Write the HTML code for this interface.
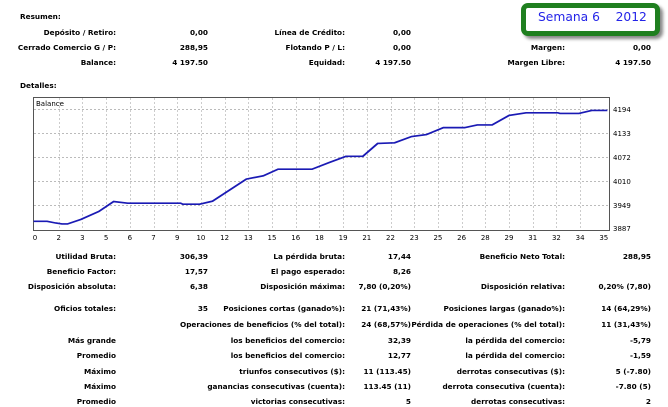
<!DOCTYPE html>
<html><head><meta charset="utf-8"><style>
body{margin:0;width:668px;height:406px;background:#fff;position:relative;overflow:hidden;font-family:"DejaVu Sans","Liberation Sans",sans-serif;font-weight:bold;font-size:7.3px;color:#000}
.t{position:absolute;white-space:nowrap;line-height:10px}
.r{position:absolute;white-space:nowrap;line-height:10px;text-align:right}
</style></head><body>
<div style="position:absolute;left:521px;top:3px;width:129px;height:23px;border:5px solid #1f7f1f;border-radius:7px;box-shadow:3px 3px 3px #888;background:#fff"></div>
<div class="t" style="left:538px;top:10px;font-family:'DejaVu Sans',sans-serif;font-weight:normal;font-size:12.3px;line-height:14px;color:#2424e8;">Semana 6&nbsp;&nbsp;&nbsp; 2012</div>

<div class="t" style="left:20px;top:12px">Resumen:</div>
<div class="t" style="left:20px;top:81px">Detalles:</div>

<svg width="668" height="406" style="position:absolute;left:0;top:0" xmlns="http://www.w3.org/2000/svg">
<rect x="33.5" y="97.5" width="576" height="133" fill="#fff" stroke="#555"/>
<g stroke="#bbb" stroke-dasharray="2,2" stroke-width="1">
<line x1="34" x2="609" y1="109.5" y2="109.5"/><line x1="34" x2="609" y1="133.5" y2="133.5"/><line x1="34" x2="609" y1="157.5" y2="157.5"/><line x1="34" x2="609" y1="181.5" y2="181.5"/><line x1="34" x2="609" y1="205.5" y2="205.5"/>
</g>
<g id="v" stroke="#ccc" stroke-dasharray="2,2"></g>
<g transform="translate(0.5,90) scale(0.4238,0.33)">
<polyline fill="none" stroke="#1a1ab4" stroke-width="5" points="78,398 110,398 130,403 145,406 158,406 190,392 232,368 267,338 300,343 425,343 430,346 470,346 500,337 580,270 620,260 655,240 735,240 775,220 815,201 855,201 890,162 930,160 970,141 1005,135 1045,114 1095,114 1125,106 1160,106 1200,77 1240,69 1315,69 1320,71 1365,71 1395,62 1432,62"/>
</g>
<text x="36" y="106" font-size="7" font-family="DejaVu Sans" font-weight="normal">Balance</text>
<g font-size="7" font-family="DejaVu Sans" font-weight="normal">
<text x="613" y="112">4194</text><text x="613" y="136">4133</text><text x="613" y="160">4072</text><text x="613" y="184">4010</text><text x="613" y="208">3949</text><text x="613" y="231">3887</text>
</g>
<g id="xl" font-size="7" font-family="DejaVu Sans" font-weight="normal" text-anchor="middle"></g>
</svg>
<script>
(function(){
var ns="http://www.w3.org/2000/svg";
var xl=document.getElementById('xl'),v=document.getElementById('v');
var labs=[0,2,3,5,6,7,9,10,12,13,15,16,18,19,21,22,23,25,26,28,29,31,32,34,35];
for(var i=0;i<labs.length;i++){var x=35+i*23.7;var t=document.createElementNS(ns,'text');t.setAttribute('x',x);t.setAttribute('y',240);t.textContent=labs[i];xl.appendChild(t);
if(i>0&&i<24){var l=document.createElementNS(ns,'line');l.setAttribute('x1',Math.round(x)+.5);l.setAttribute('x2',Math.round(x)+.5);l.setAttribute('y1',98);l.setAttribute('y2',230);v.appendChild(l);}}
})();
</script>
<div class="r" style="right:552px;top:28px">Depósito / Retiro:</div><div class="r" style="right:460px;top:28px">0,00</div>
<div class="r" style="right:323px;top:28px">Línea de Crédito:</div><div class="r" style="right:257px;top:28px">0,00</div>
<div class="r" style="right:552px;top:43px">Cerrado Comercio G / P:</div><div class="r" style="right:460px;top:43px">288,95</div>
<div class="r" style="right:323px;top:43px">Flotando P / L:</div><div class="r" style="right:257px;top:43px">0,00</div>
<div class="r" style="right:103px;top:43px">Margen:</div><div class="r" style="right:17px;top:43px">0,00</div>
<div class="r" style="right:552px;top:58px">Balance:</div><div class="r" style="right:460px;top:58px">4 197.50</div>
<div class="r" style="right:323px;top:58px">Equidad:</div><div class="r" style="right:257px;top:58px">4 197.50</div>
<div class="r" style="right:103px;top:58px">Margen Libre:</div><div class="r" style="right:17px;top:58px">4 197.50</div>

<div class="r" style="right:552px;top:252px">Utilidad Bruta:</div><div class="r" style="right:460px;top:252px">306,39</div>
<div class="r" style="right:323px;top:252px">La pérdida bruta:</div><div class="r" style="right:257px;top:252px">17,44</div>
<div class="r" style="right:103px;top:252px">Beneficio Neto Total:</div><div class="r" style="right:17px;top:252px">288,95</div>
<div class="r" style="right:552px;top:267px">Beneficio Factor:</div><div class="r" style="right:460px;top:267px">17,57</div>
<div class="r" style="right:323px;top:267px">El pago esperado:</div><div class="r" style="right:257px;top:267px">8,26</div>
<div class="r" style="right:552px;top:282px">Disposición absoluta:</div><div class="r" style="right:460px;top:282px">6,38</div>
<div class="r" style="right:323px;top:282px">Disposición máxima:</div><div class="r" style="right:257px;top:282px">7,80 (0,20%)</div>
<div class="r" style="right:103px;top:282px">Disposición relativa:</div><div class="r" style="right:17px;top:282px">0,20% (7,80)</div>
<div class="r" style="right:552px;top:304px">Oficios totales:</div><div class="r" style="right:460px;top:304px">35</div>
<div class="r" style="right:323px;top:304px">Posiciones cortas (ganado%):</div><div class="r" style="right:257px;top:304px">21 (71,43%)</div>
<div class="r" style="right:103px;top:304px">Posiciones largas (ganado%):</div><div class="r" style="right:17px;top:304px">14 (64,29%)</div>
<div class="r" style="right:323px;top:320px">Operaciones de beneficios (% del total):</div><div class="r" style="right:257px;top:320px">24 (68,57%)</div>
<div class="r" style="right:103px;top:320px">Pérdida de operaciones (% del total):</div><div class="r" style="right:17px;top:320px">11 (31,43%)</div>
<div class="r" style="right:552px;top:336px">Más grande</div>
<div class="r" style="right:323px;top:336px">los beneficios del comercio:</div><div class="r" style="right:257px;top:336px">32,39</div>
<div class="r" style="right:103px;top:336px">la pérdida del comercio:</div><div class="r" style="right:17px;top:336px">-5,79</div>
<div class="r" style="right:552px;top:351px">Promedio</div>
<div class="r" style="right:323px;top:351px">los beneficios del comercio:</div><div class="r" style="right:257px;top:351px">12,77</div>
<div class="r" style="right:103px;top:351px">la pérdida del comercio:</div><div class="r" style="right:17px;top:351px">-1,59</div>
<div class="r" style="right:552px;top:367px">Máximo</div>
<div class="r" style="right:323px;top:367px">triunfos consecutivos ($):</div><div class="r" style="right:257px;top:367px">11 (113.45)</div>
<div class="r" style="right:103px;top:367px">derrotas consecutivas ($):</div><div class="r" style="right:17px;top:367px">5 (-7.80)</div>
<div class="r" style="right:552px;top:382px">Máximo</div>
<div class="r" style="right:323px;top:382px">ganancias consecutivas (cuenta):</div><div class="r" style="right:257px;top:382px">113.45 (11)</div>
<div class="r" style="right:103px;top:382px">derrota consecutiva (cuenta):</div><div class="r" style="right:17px;top:382px">-7.80 (5)</div>
<div class="r" style="right:552px;top:397px">Promedio</div>
<div class="r" style="right:323px;top:397px">victorias consecutivas:</div><div class="r" style="right:257px;top:397px">5</div>
<div class="r" style="right:103px;top:397px">derrotas consecutivas:</div><div class="r" style="right:17px;top:397px">2</div>
</body></html>
